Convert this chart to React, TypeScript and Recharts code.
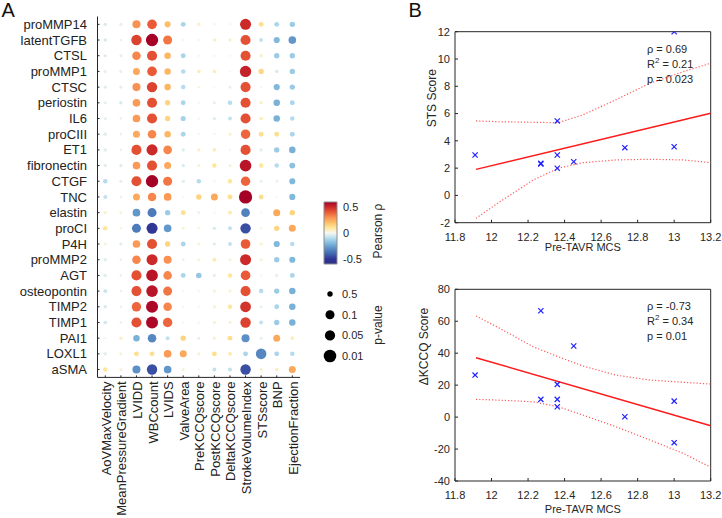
import React from 'react'
import {
  ScatterChart, Scatter, XAxis, YAxis, ZAxis, Cell,
  BarChart, Bar,
} from 'recharts'

const FONT = '"Liberation Sans", Arial, sans-serif'
const INK = '#262626'

// ---- panel A: protein x clinical variable correlation matrix ----
const genes = ['proMMP14', 'latentTGFB', 'CTSL', 'proMMP1', 'CTSC', 'periostin', 'IL6', 'proCIII', 'ET1',
  'fibronectin', 'CTGF', 'TNC', 'elastin', 'proCI', 'P4H', 'proMMP2', 'AGT', 'osteopontin', 'TIMP2',
  'TIMP1', 'PAI1', 'LOXL1', 'aSMA']
const clinical = ['AoVMaxVelocity', 'MeanPressureGradient', 'LVIDD', 'WBCcount', 'LVIDS', 'ValveArea',
  'PreKCCQscore', 'PostKCCQscore', 'DeltaKCCQscore', 'StrokeVolumeIndex', 'STSscore', 'BNP', 'EjectionFraction']

// Pearson rho, one row per protein (columns follow `clinical`)
const rhoRows = [
  [-0.05, -0.03, 0.30, 0.40, 0.20, -0.12, 0.05, 0.02, 0.00, 0.50, 0.12, -0.12, -0.15],
  [-0.05, -0.02, 0.45, 0.60, 0.35, 0.00, 0.00, 0.05, 0.05, 0.42, -0.08, -0.20, -0.28],
  [-0.04, -0.03, 0.32, 0.42, 0.22, -0.12, 0.00, 0.00, 0.00, 0.42, 0.05, -0.15, -0.15],
  [-0.03, -0.03, 0.25, 0.40, 0.22, -0.10, 0.06, 0.06, 0.00, 0.52, 0.14, -0.05, -0.15],
  [-0.04, -0.03, 0.30, 0.45, 0.22, -0.10, 0.02, 0.00, -0.03, 0.42, 0.00, -0.20, -0.15],
  [-0.03, -0.05, 0.28, 0.42, 0.15, -0.12, 0.00, -0.03, -0.10, 0.42, 0.05, -0.22, -0.12],
  [-0.03, -0.02, 0.28, 0.42, 0.15, -0.13, 0.00, -0.04, -0.08, 0.42, 0.06, -0.22, -0.10],
  [-0.04, -0.02, 0.25, 0.32, 0.22, -0.12, 0.00, 0.00, 0.04, 0.38, 0.12, 0.12, -0.12],
  [-0.04, -0.02, 0.42, 0.50, 0.32, -0.04, 0.05, 0.06, 0.00, 0.42, -0.04, -0.15, -0.22],
  [-0.04, -0.04, 0.28, 0.42, 0.25, -0.05, 0.03, 0.10, 0.03, 0.55, 0.10, -0.10, -0.18],
  [-0.10, -0.03, 0.42, 0.60, 0.35, -0.04, -0.10, 0.00, 0.10, 0.38, -0.03, -0.02, -0.20],
  [-0.08, -0.02, 0.25, 0.32, 0.28, 0.00, 0.15, 0.25, 0.12, 0.65, 0.12, 0.00, -0.20],
  [0.04, 0.03, -0.28, -0.35, -0.15, 0.12, -0.02, 0.00, 0.08, -0.33, 0.00, 0.25, 0.15],
  [0.10, 0.02, -0.35, -0.50, -0.28, 0.03, 0.02, -0.05, -0.08, -0.45, 0.02, 0.15, 0.25],
  [0.03, -0.04, 0.28, 0.42, 0.15, -0.12, 0.03, -0.04, -0.08, 0.40, 0.04, -0.20, -0.10],
  [-0.04, -0.02, 0.32, 0.50, 0.30, -0.02, 0.03, 0.08, 0.03, 0.50, 0.03, -0.15, -0.20],
  [-0.04, -0.02, 0.42, 0.55, 0.32, -0.12, -0.16, -0.03, 0.10, 0.40, 0.00, -0.03, -0.12],
  [-0.07, -0.02, 0.42, 0.55, 0.35, 0.00, 0.00, 0.04, 0.04, 0.42, -0.10, -0.15, -0.22],
  [-0.05, -0.02, 0.38, 0.58, 0.32, 0.00, 0.00, 0.04, 0.10, 0.48, -0.03, -0.12, -0.22],
  [-0.06, -0.02, 0.42, 0.58, 0.38, 0.00, 0.00, 0.04, 0.04, 0.45, -0.08, -0.15, -0.22],
  [0.00, 0.05, -0.22, -0.32, -0.08, 0.15, -0.03, 0.04, 0.12, -0.30, -0.03, 0.25, 0.06],
  [-0.04, 0.03, 0.12, 0.12, 0.28, 0.25, 0.04, 0.12, 0.08, -0.12, -0.32, -0.12, -0.10],
  [0.10, 0.04, -0.30, -0.45, -0.28, 0.03, 0.00, -0.08, -0.08, -0.45, 0.04, 0.06, 0.25],
]

// p-values
const pRows = [
  [0.85, 0.9, 0.17, 0.07, 0.38, 0.58, 0.85, 0.95, 0.98, 0.03, 0.58, 0.58, 0.5],
  [0.85, 0.95, 0.045, 0.012, 0.1, 0.98, 0.98, 0.85, 0.85, 0.055, 0.75, 0.38, 0.2],
  [0.88, 0.9, 0.13, 0.055, 0.33, 0.58, 0.98, 0.98, 0.98, 0.055, 0.85, 0.5, 0.5],
  [0.9, 0.9, 0.27, 0.07, 0.33, 0.65, 0.8, 0.8, 0.98, 0.025, 0.5, 0.85, 0.5],
  [0.88, 0.9, 0.17, 0.045, 0.33, 0.65, 0.95, 0.98, 0.9, 0.055, 0.98, 0.38, 0.5],
  [0.9, 0.85, 0.2, 0.055, 0.5, 0.58, 0.98, 0.9, 0.65, 0.055, 0.85, 0.33, 0.58],
  [0.9, 0.95, 0.2, 0.055, 0.5, 0.55, 0.98, 0.88, 0.75, 0.055, 0.8, 0.33, 0.65],
  [0.88, 0.95, 0.27, 0.13, 0.33, 0.58, 0.98, 0.98, 0.88, 0.08, 0.58, 0.58, 0.58],
  [0.88, 0.95, 0.055, 0.03, 0.13, 0.88, 0.85, 0.8, 0.98, 0.055, 0.88, 0.5, 0.33],
  [0.88, 0.88, 0.2, 0.055, 0.27, 0.85, 0.9, 0.65, 0.9, 0.02, 0.65, 0.65, 0.42],
  [0.65, 0.9, 0.055, 0.012, 0.1, 0.88, 0.65, 0.98, 0.65, 0.08, 0.9, 0.95, 0.38],
  [0.75, 0.95, 0.27, 0.13, 0.2, 0.98, 0.5, 0.27, 0.58, 0.006, 0.58, 0.98, 0.38],
  [0.88, 0.9, 0.2, 0.1, 0.5, 0.58, 0.95, 0.98, 0.75, 0.12, 0.98, 0.27, 0.5],
  [0.65, 0.95, 0.1, 0.03, 0.2, 0.9, 0.95, 0.85, 0.75, 0.045, 0.95, 0.5, 0.27],
  [0.9, 0.88, 0.2, 0.055, 0.5, 0.58, 0.9, 0.88, 0.75, 0.07, 0.88, 0.38, 0.65],
  [0.88, 0.95, 0.13, 0.03, 0.17, 0.95, 0.9, 0.75, 0.9, 0.03, 0.9, 0.5, 0.38],
  [0.88, 0.95, 0.055, 0.02, 0.13, 0.58, 0.47, 0.9, 0.65, 0.07, 0.98, 0.9, 0.58],
  [0.75, 0.95, 0.055, 0.02, 0.1, 0.98, 0.98, 0.88, 0.88, 0.055, 0.65, 0.5, 0.33],
  [0.85, 0.95, 0.08, 0.015, 0.13, 0.98, 0.98, 0.88, 0.65, 0.035, 0.9, 0.58, 0.33],
  [0.8, 0.95, 0.055, 0.015, 0.08, 0.98, 0.98, 0.88, 0.88, 0.045, 0.75, 0.5, 0.33],
  [0.98, 0.85, 0.33, 0.13, 0.75, 0.5, 0.9, 0.88, 0.58, 0.17, 0.9, 0.27, 0.8],
  [0.88, 0.9, 0.58, 0.58, 0.2, 0.27, 0.88, 0.58, 0.75, 0.58, 0.04, 0.58, 0.65],
  [0.65, 0.88, 0.17, 0.045, 0.2, 0.9, 0.98, 0.75, 0.75, 0.045, 0.88, 0.8, 0.27],
]

const legendP = [0.5, 0.1, 0.05, 0.01]
const rhoTicks = [-0.5, 0, 0.5]

// ---- panel B: scatter vs pre-TAVR MCS ----
const mcs = [11.91, 12.27, 12.27, 12.36, 12.36, 12.36, 12.45, 12.73, 13.0, 13.0]
const stsScore = [2.96, 2.35, 2.3, 5.46, 2.96, 1.99, 2.47, 3.5, 3.57, 12.0]
const dKccq = [26.3, 66.6, 11.1, 20.5, 11.1, 6.5, 44.5, 0.2, 10, -16]

const fitX = [11.915, 13.2]
const stsFit = [1.91, 6.02]
const kccqFit = [37.2, -5.4]

const ciX = [11.915, 12.046, 12.228, 12.365, 12.5, 12.68, 12.866, 13.05, 13.2]
const stsUpper = [5.46, 5.4, 5.36, 5.33, 5.9, 7.0, 8.22, 9.07, 9.69]
const stsLower = [-1.68, -0.46, 1.13, 1.99, 2.4, 2.6, 2.65, 2.6, 2.4]
const kccqUpper = [63.3, 55.5, 44, 37.8, 32, 26.3, 23.2, 21.8, 20.7]
const kccqLower = [11.1, 10.6, 9.6, 6.5, 1.3, -6, -14.3, -22.7, -31.4]

const mcsTicks = [11.8, 12, 12.2, 12.4, 12.6, 12.8, 13, 13.2]
const stsTicks = [-2, 0, 2, 4, 6, 8, 10, 12]
const kccqTicks = [-40, -20, 0, 20, 40, 60, 80]

const colorStops: [number, string][] = [
  [-0.6, '#2c2f8a'], [-0.5, '#313695'], [-0.4, '#4068b0'], [-0.3, '#5b8fc5'], [-0.2, '#80b9dc'],
  [-0.1, '#b5dcee'], [0, '#f7f7f2'], [0.1, '#fee79a'], [0.2, '#fdc068'], [0.3, '#f99152'],
  [0.4, '#ea5a36'], [0.5, '#cc2a2a'], [0.6, '#a50026'],
]

function hex(c: string) { return [1, 3, 5].map(i => parseInt(c.slice(i, i + 2), 16)) }
function rhoColor(v: number) {
  const t = Math.max(-0.6, Math.min(0.6, v))
  for (let i = 0; i < colorStops.length - 1; i++) {
    const [a, ca] = colorStops[i]
    const [b, cb] = colorStops[i + 1]
    if (t <= b) {
      const f = (t - a) / (b - a)
      const A = hex(ca), B = hex(cb)
      return `rgb(${A.map((x, k) => Math.round(x + (B[k] - x) * f)).join(',')})`
    }
  }
  return colorStops[colorStops.length - 1][1]
}

const cells = rhoRows.flatMap((row, r) => row.map((rho, c) => ({
  x: c, y: r, rho, z: -Math.log10(pRows[r][c]),
})))
const legendPts = legendP.map((p, i) => ({ x: 0, y: i, z: -Math.log10(p) }))

const Z_DOMAIN = [0, 2.3]
const Z_RANGE = [1.5 * Math.PI, 45.2 * Math.PI]

const toPts = (xs: number[], ys: number[]) => xs.map((x, i) => ({ x, y: ys[i] }))

function ClinTick({ x, y, payload }: any) {
  return (
    <text x={x} y={y} transform={`rotate(-90 ${x} ${y})`} textAnchor="end" dy="0.42em"
      fontSize={13} fill="#222" fontFamily={FONT}>{clinical[payload.value]}</text>
  )
}

function XMark({ cx, cy }: any) {
  const d = 2.6
  return (
    <g stroke="#2020ff" strokeWidth={1.2}>
      <line x1={cx - d} y1={cy - d} x2={cx + d} y2={cy + d} />
      <line x1={cx - d} y1={cy + d} x2={cx + d} y2={cy - d} />
    </g>
  )
}
const Blank = () => <g />

function MatrixPanel() {
  return (
    <ScatterChart width={310} height={518} margin={{ top: 16.5, right: 9.9, bottom: 0.6, left: 7.5 }}>
      <XAxis type="number" dataKey="x" domain={[-0.5, 12.5]} ticks={clinical.map((_, i) => i)} interval={0}
        tickSize={-2} tickMargin={6} height={140} stroke={INK} tick={<ClinTick />} allowDataOverflow />
      <YAxis type="number" dataKey="y" domain={[-0.5, 22.5]} ticks={genes.map((_, i) => i)} interval={0}
        reversed width={90} tickSize={-2} tickMargin={12.5} stroke={INK}
        tickFormatter={(i: number) => genes[i]} tick={{ fontSize: 13, fill: '#222', fontFamily: FONT }} allowDataOverflow />
      <ZAxis type="number" dataKey="z" domain={Z_DOMAIN} range={Z_RANGE} />
      <Scatter data={cells} shape="circle" isAnimationActive={false}>
        {cells.map((c, i) => <Cell key={i} fill={rhoColor(c.rho)} />)}
      </Scatter>
    </ScatterChart>
  )
}

function ColorBar() {
  return (
    <BarChart width={77} height={90} data={[{ k: 'rho', v: [-0.6, 0.6] }]}
      margin={{ top: 12, right: 0, bottom: 16, left: 14 }} barCategoryGap={0} barGap={0}>
      <defs>
        <linearGradient id="rhoGrad" x1="0" y1="0" x2="0" y2="1">
          {[...colorStops].reverse().map(([v, c]) => (
            <stop key={v} offset={`${((0.6 - v) / 1.2) * 100}%`} stopColor={c} />
          ))}
        </linearGradient>
      </defs>
      <XAxis dataKey="k" hide />
      <YAxis orientation="right" type="number" domain={[-0.6, 0.6]} ticks={rhoTicks} width={50}
        axisLine={false} tickLine={false} tickSize={0} tickMargin={6}
        tick={{ fontSize: 11, fill: INK, fontFamily: FONT }} />
      <Bar dataKey="v" fill="url(#rhoGrad)" stroke="#8c8c8c" strokeWidth={1} isAnimationActive={false} />
    </BarChart>
  )
}

function SizeLegend() {
  return (
    <ScatterChart width={75} height={110} margin={{ top: 13.7, right: 0, bottom: 13.6, left: 10 }}>
      <XAxis type="number" dataKey="x" domain={[-1, 1]} hide />
      <YAxis orientation="right" type="number" dataKey="y" domain={[-0.5, 3.5]} reversed ticks={[0, 1, 2, 3]}
        interval={0} width={45} axisLine={false} tickLine={false} tickSize={0} tickMargin={2}
        tickFormatter={(i: number) => String(legendP[i])} tick={{ fontSize: 11, fill: INK, fontFamily: FONT }} />
      <ZAxis type="number" dataKey="z" domain={Z_DOMAIN} range={Z_RANGE} />
      <Scatter data={legendPts} fill="#000" shape="circle" isAnimationActive={false} />
    </ScatterChart>
  )
}

function FitPanel({ height, top, bottom, xLabelOffset, yTicks, yDomain, yLabel, labelOffset, pts, fit, upper, lower }: {
  height: number; top: number; bottom: number; xLabelOffset: number; yTicks: number[]; yDomain: number[]
  yLabel: string; labelOffset: number
  pts: { x: number; y: number }[]; fit: number[]; upper: number[]; lower: number[]
}) {
  const tickStyle = { fontSize: 11, fill: INK, fontFamily: FONT }
  const dotted = { stroke: '#ff5a5a', strokeWidth: 1.2, strokeDasharray: '1.2 2' }
  return (
    <ScatterChart width={322} height={height} margin={{ top, right: 10.3, bottom, left: 15 }}>
      <XAxis type="number" dataKey="x" domain={[11.8, 13.2]} ticks={mcsTicks} interval={0} height={30}
        tickSize={-3} tickMargin={13} stroke={INK} tick={tickStyle} allowDataOverflow
        label={{ value: 'Pre-TAVR MCS', position: 'insideBottom', offset: xLabelOffset, ...tickStyle }} />
      <XAxis xAxisId="top" orientation="top" type="number" domain={[11.8, 13.2]} ticks={mcsTicks} interval={0}
        height={1} tick={false} tickSize={-3} stroke={INK} allowDataOverflow />
      <YAxis type="number" dataKey="y" domain={yDomain} ticks={yTicks} interval={0} width={40}
        tickSize={-3} tickMargin={8} stroke={INK} tick={tickStyle} allowDataOverflow
        label={{ value: yLabel, angle: -90, position: 'insideLeft', offset: labelOffset, ...tickStyle, fontSize: 12 }} />
      <YAxis yAxisId="right" orientation="right" type="number" domain={yDomain} ticks={yTicks} interval={0}
        width={1} tick={false} tickSize={-3} stroke={INK} allowDataOverflow />
      <Scatter data={toPts(ciX, upper)} line={dotted} shape={Blank} isAnimationActive={false} />
      <Scatter data={toPts(ciX, lower)} line={dotted} shape={Blank} isAnimationActive={false} />
      <Scatter data={toPts(fitX, fit)} line={{ stroke: '#ff1a1a', strokeWidth: 1.5 }} shape={Blank} isAnimationActive={false} />
      <Scatter data={pts} shape={XMark} isAnimationActive={false} />
    </ScatterChart>
  )
}

const abs = (left: number, top: number): React.CSSProperties => ({ position: 'absolute', left, top })
const note: React.CSSProperties = { position: 'absolute', fontSize: 11, color: INK, fontFamily: FONT, lineHeight: '15.3px', whiteSpace: 'nowrap' }
const sup: React.CSSProperties = { fontSize: 8, lineHeight: 0, verticalAlign: 'super' }
const vlabel = (left: number, top: number): React.CSSProperties => ({
  position: 'absolute', left, top, transform: 'translate(-50%, -50%) rotate(-90deg)',
  fontSize: 12, color: INK, fontFamily: FONT, whiteSpace: 'nowrap', lineHeight: '14px',
})

export default function App() {
  return (
    <div style={{ position: 'absolute', left: 0, top: 0, width: 722, height: 518, background: '#fff', overflow: 'hidden', fontFamily: FONT }}>
      <div style={{ ...abs(1.5, 0), fontSize: 20, lineHeight: '20px', color: '#111' }}>A</div>
      <div style={{ ...abs(408.5, 0), fontSize: 20, lineHeight: '20px', color: '#111' }}>B</div>

      <div style={abs(0, 0)}><MatrixPanel /></div>
      <div style={abs(310, 190)}><ColorBar /></div>
      <div style={abs(310, 270)}><SizeLegend /></div>
      <div style={vlabel(378, 231)}>Pearson ρ</div>
      <div style={vlabel(378, 325)}>p-value</div>

      <div style={abs(400, 0)}>
        <FitPanel height={259} top={30.7} bottom={6.3} xLabelOffset={1.5} yTicks={stsTicks} yDomain={[-2, 12]}
          yLabel="STS Score" labelOffset={16.7} pts={toPts(mcs, stsScore)} fit={stsFit} upper={stsUpper} lower={stsLower} />
      </div>
      <div style={abs(400, 260)}>
        <FitPanel height={258} top={28.3} bottom={7} xLabelOffset={-1.5} yTicks={kccqTicks} yDomain={[-40, 80]}
          yLabel="ΔKCCQ Score" labelOffset={9} pts={toPts(mcs, dKccq)} fit={kccqFit} upper={kccqUpper} lower={kccqLower} />
      </div>

      <div style={{ ...note, left: 647, top: 41.8 }}>
        <div>ρ = 0.69</div>
        <div>R<span style={sup}>2</span> = 0.21</div>
        <div>p = 0.023</div>
      </div>
      <div style={{ ...note, left: 647, top: 298.5 }}>
        <div>ρ = -0.73</div>
        <div>R<span style={sup}>2</span> = 0.34</div>
        <div>p = 0.01</div>
      </div>
    </div>
  )
}
